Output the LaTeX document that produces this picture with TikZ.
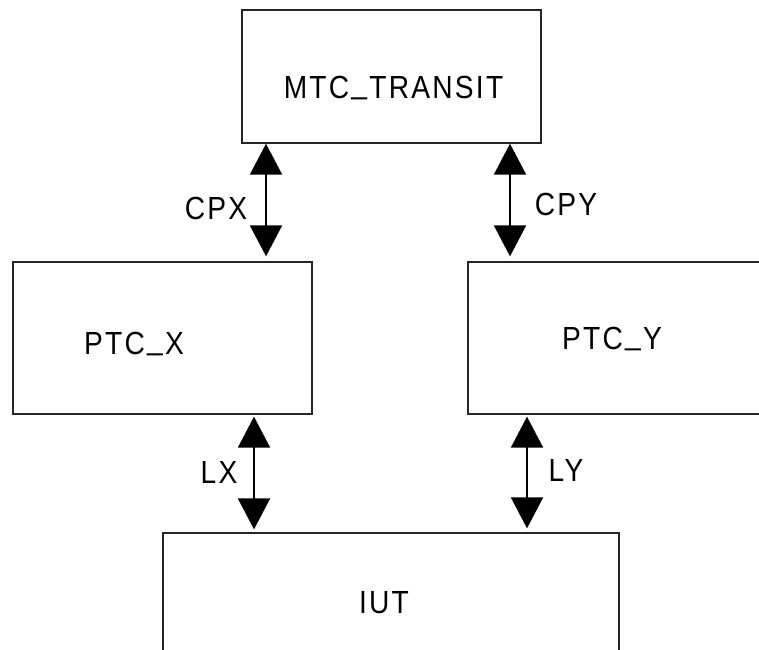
\documentclass[tikz,border=0pt]{standalone}
\usepackage{fontspec}
\setmainfont{Liberation Sans}[FakeStretch=0.88, LetterSpace=7]
\usetikzlibrary{arrows.meta,calc}
\newcommand{\lowbar}{\kern2.2pt\raisebox{5pt}{\_}\kern2.2pt}
\begin{document}
\begin{tikzpicture}[x=1pt,y=-1pt,
  box/.style={draw=black!85, line width=1.3pt, rectangle, inner sep=0pt},
  lbl/.style={inner sep=0pt, font=\fontsize{32}{38}\selectfont, text height=23pt, text depth=0pt, anchor=center},
  link/.style={line width=2pt, {Triangle[length=31pt,width=32pt]}-{Triangle[length=31pt,width=32pt]}}
]
\useasboundingbox (0,0) rectangle (759,649);
\node[box, minimum width=299pt, minimum height=133pt] (mtc) at (391.5,76.5) {};
\node[box, minimum width=299pt, minimum height=152pt] (ptcx) at (162.5,338) {};
\node[box, minimum width=310pt, minimum height=152pt] (ptcy) at (623,338) {};
\node[box, minimum width=456pt, minimum height=130pt] (iut) at (391,598) {};

\node[lbl] (tmtc) at (393.5,87) {MTC\lowbar TRANSIT};
\node[lbl] (tptcx) at (134,343) {PTC\lowbar X};
\node[lbl] (tptcy) at (612,338) {PTC\lowbar Y};
\node[lbl] (tiut) at (384,602) {IUT};

\coordinate (cpx) at (266,0);
\coordinate (cpy) at (510,0);
\coordinate (lx) at (254,0);
\coordinate (ly) at (527,0);

\draw[link, shorten >=5pt] (mtc.south -| cpx) -- (ptcx.north -| cpx);
\draw[link, shorten >=5pt] (mtc.south -| cpy) -- (ptcy.north -| cpy);
\draw[link, shorten <=2pt, shorten >=3pt] (ptcx.south -| lx) -- (iut.north -| lx);
\draw[link, shorten <=2pt, shorten >=4pt] (ptcy.south -| ly) -- (iut.north -| ly);

\node[lbl] (tcpx) at (216,208) {CPX};
\node[lbl] (tcpy) at (566,204) {CPY};
\node[lbl] (tlx) at (219,472) {LX};
\node[lbl] (tly) at (566,470) {LY};
\end{tikzpicture}
\end{document}
